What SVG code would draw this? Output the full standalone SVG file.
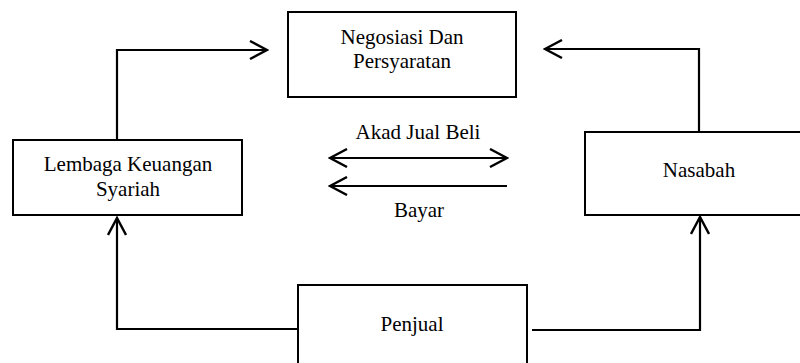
<svg xmlns="http://www.w3.org/2000/svg" width="800" height="363" viewBox="0 0 800 363">
<style>
.box{fill:#fff;stroke:#000;stroke-width:2}
.ln{fill:none;stroke:#000;stroke-width:2.2}
text{font-family:"Liberation Serif","Times New Roman",serif;font-size:21px;fill:#000;text-anchor:middle}
</style>
<defs>
<marker id="ah" viewBox="0 0 20 20" refX="18" refY="10" markerWidth="20" markerHeight="20" markerUnits="userSpaceOnUse" orient="auto-start-reverse">
<path d="M1,1 L18,10 L1,19" fill="none" stroke="#000" stroke-width="2.4"/>
</marker>
</defs>
<rect width="800" height="363" fill="#fff"/>
<g id="connectors">
<polyline class="ln" points="117,140 117,50 267,50" marker-end="url(#ah)"/>
<polyline class="ln" points="699,132 699,49 545,49" marker-end="url(#ah)"/>
<polyline class="ln" points="298,329 117,329 117,218" marker-end="url(#ah)"/>
<polyline class="ln" points="532,330 700,330 700,217" marker-end="url(#ah)"/>
<line class="ln" x1="330" y1="158" x2="507" y2="158" marker-start="url(#ah)" marker-end="url(#ah)"/>
<line class="ln" x1="507" y1="186" x2="330" y2="186" marker-end="url(#ah)"/>
<text x="418" y="139">Akad Jual Beli</text>
<text x="419" y="217">Bayar</text>
</g>
<g id="negosiasi">
<rect class="box" x="288" y="12" width="228" height="85"/>
<text x="402" y="44">Negosiasi Dan</text>
<text x="402" y="68">Persyaratan</text>
</g>
<g id="lembaga">
<rect class="box" x="13" y="140" width="229" height="75"/>
<text x="128" y="171">Lembaga Keuangan</text>
<text x="128" y="196">Syariah</text>
</g>
<g id="nasabah">
<rect class="box" x="585" y="132" width="230" height="83"/>
<text x="699" y="177">Nasabah</text>
</g>
<g id="penjual">
<rect class="box" x="298" y="285" width="229" height="90"/>
<text x="412" y="331">Penjual</text>
</g>
</svg>
